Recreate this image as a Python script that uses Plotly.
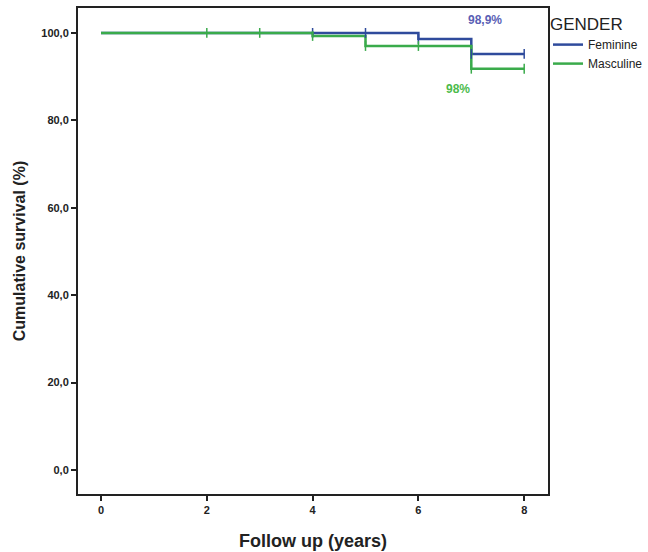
import plotly.graph_objects as go

# Kaplan-Meier steps
fem_time = [0, 6, 7, 8]
fem_surv = [100, 98.6, 95.2, 95.2]
fem_cens_time = [4, 5, 6, 7, 8]
fem_cens_surv = [100, 100, 98.6, 95.2, 95.2]

mas_time = [0, 4, 5, 7, 8]
mas_surv = [100, 99.3, 97.0, 91.8, 91.8]
mas_cens_time = [2, 3, 4, 5, 6, 7, 8]
mas_cens_surv = [100, 100, 99.3, 97.0, 97.0, 91.8, 91.8]

y_ticks = [0, 20, 40, 60, 80, 100]
y_labels = ["0,0", "20,0", "40,0", "60,0", "80,0", "100,0"]
x_ticks = [0, 2, 4, 6, 8]

blue = "#2f4b9c"
green = "#3aab4b"

fig = go.Figure()

fig.add_trace(go.Scatter(x=fem_time, y=fem_surv, mode="lines", line_shape="hv",
                         line=dict(color=blue, width=2.5), name="Feminine"))
fig.add_trace(go.Scatter(x=mas_time, y=mas_surv, mode="lines", line_shape="hv",
                         line=dict(color=green, width=2.5), name="Masculine"))

# censor marks
fig.add_trace(go.Scatter(x=fem_cens_time, y=fem_cens_surv, mode="markers", showlegend=False,
                         marker=dict(symbol="line-ns-open", size=7, color=blue, line=dict(color=blue, width=1.5))))
fig.add_trace(go.Scatter(x=mas_cens_time, y=mas_cens_surv, mode="markers", showlegend=False,
                         marker=dict(symbol="line-ns-open", size=7, color=green, line=dict(color=green, width=1.5))))

fig.add_annotation(x=7.26, y=103, text="<b>98,9%</b>", showarrow=False,
                   font=dict(family="Liberation Sans", size=12, color="#5a5fb5"))
fig.add_annotation(x=6.75, y=87.2, text="<b>98%</b>", showarrow=False,
                   font=dict(family="Liberation Sans", size=12, color="#4cbb4c"))

fig.update_layout(
    width=648, height=552,
    margin=dict(l=78, r=100, t=8, b=58, autoexpand=False),
    paper_bgcolor="white", plot_bgcolor="white",
    font=dict(family="Liberation Sans", color="#222222"),
    legend=dict(x=1.0, y=1.0, xanchor="left", yanchor="top", bgcolor="rgba(0,0,0,0)",
                title=dict(text="GENDER", font=dict(size=17, color="#222222")),
                font=dict(size=12), tracegroupgap=0, itemwidth=30),
)

fig.update_xaxes(range=[-0.435, 8.45], tickvals=x_ticks, ticktext=["<b>%d</b>" % t for t in x_ticks],
                 ticks="outside", ticklen=5, tickwidth=2, tickcolor="#222222",
                 showline=True, linecolor="#222222", linewidth=2, mirror=True,
                 showgrid=False, zeroline=False, automargin=False,
                 tickfont=dict(size=11, family="Liberation Sans"),
                 title=dict(text="<b>Follow up (years)</b>", font=dict(size=18), standoff=19))
fig.update_yaxes(range=[-5.5, 105.7], tickvals=y_ticks, ticktext=["<b>%s</b>" % t for t in y_labels],
                 ticks="outside", ticklen=5, tickwidth=2, tickcolor="#222222",
                 showline=True, linecolor="#222222", linewidth=2, mirror=True,
                 showgrid=False, zeroline=False, automargin=False,
                 tickfont=dict(size=11, family="Liberation Sans"),
                 title=dict(text="<b>Cumulative survival (%)</b>", font=dict(size=16), standoff=12))

# page body has a default 8px margin, drop it so the figure sits at the corner
fig.write_html("out.html", config={"displayModeBar": False},
               post_script="document.body.style.margin='0';")
